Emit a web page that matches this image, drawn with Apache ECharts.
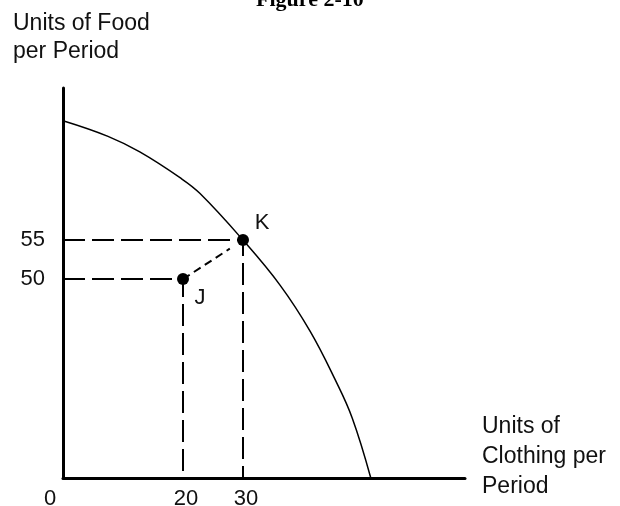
<!DOCTYPE html>
<html>
<head>
<meta charset="utf-8">
<script src="https://cdn.jsdelivr.net/npm/echarts@6/dist/echarts.min.js"></script>
<style>
html,body{margin:0;padding:0;background:#fff;}
#chart{width:620px;height:506px;}
</style>
</head>
<body>
<div id="chart"></div>
<script>
// ---- data ----
const titleText = 'Figure 2-10';
const yAxisTitle = 'Units of Food\nper Period';
const xAxisTitle = 'Units of\nClothing per\nPeriod';
// production possibilities frontier
const ppfClothing = [0, 7.5, 12.8, 19.5, 22.8, 30, 36.2, 41.2, 45.3, 48.2, 51.3];
const ppfFood     = [70.3, 68.3, 66.3, 63.0, 61.0, 55, 49.2, 43.3, 37.2, 32.2, 24.5];
// labelled points
const pointNames = ['J', 'K'];
const pointClothing = [20, 30];
const pointFood = [50, 55];
// short dashed move from J toward K
const moveClothing = [20, 27.8];
const moveFood = [50, 53.9];
// tick labels
const xTickValues = [0, 20, 30];
const yTickValues = [50, 55];

const Y_MIN = 24.5, Y_MAX = 74.5, X_MIN = 0, X_MAX = 67;

const chart = echarts.init(document.getElementById('chart'), null, {renderer: 'canvas'});
const font = "'Liberation Sans', Arial, sans-serif";
const txt = '#111';

const guideSeries = pointNames.map((n, i) => ({
  type: 'line',
  data: [[X_MIN, pointFood[i]], [pointClothing[i], pointFood[i]], [pointClothing[i], Y_MIN]],
  showSymbol: false,
  silent: true,
  lineStyle: {color: '#000', width: 2, type: [22, 7]},
  z: 2
}));

const option = {
  backgroundColor: '#fff',
  animation: false,
  grid: {left: 63, top: 88, width: 402, height: 390, containLabel: false, outerBoundsMode: 'none'},
  xAxis: {
    type: 'value', min: X_MIN, max: X_MAX,
    axisLine: {show: true, onZero: false, lineStyle: {color: '#000', width: 3}},
    axisTick: {show: false},
    splitLine: {show: false},
    axisLabel: {
      customValues: xTickValues,
      margin: 10,
      fontSize: 22, fontFamily: font, color: txt,
      formatter: v => v === 0 ? '{z|0}' : '{n|' + v + '}',
      rich: {
        z: {fontSize: 22, fontFamily: font, color: txt, padding: [0, 26, 0, 0]},
        n: {fontSize: 22, fontFamily: font, color: txt, padding: [0, 0, 0, 6]}
      }
    }
  },
  yAxis: {
    type: 'value', min: Y_MIN, max: Y_MAX,
    axisLine: {show: true, onZero: false, lineStyle: {color: '#000', width: 3}},
    axisTick: {show: false},
    splitLine: {show: false},
    axisLabel: {
      customValues: yTickValues,
      margin: 18,
      fontSize: 22, fontFamily: font, color: txt
    }
  },
  graphic: [
    {type: 'text', left: 310 - 54, top: -11, style: {text: titleText, font: "bold 22px 'Liberation Serif', 'Times New Roman', serif", fill: '#000', lineHeight: 22}},
    {type: 'text', x: 13, y: 10, style: {text: yAxisTitle, font: '23px ' + font, fill: txt, lineHeight: 28}},
    {type: 'text', x: 482, y: 412, style: {text: xAxisTitle, font: '23px ' + font, fill: txt, lineHeight: 30}}
  ],
  series: [
    {
      type: 'line',
      data: ppfClothing.map((c, i) => [c, ppfFood[i]]),
      smooth: 0.4,
      showSymbol: false,
      silent: true,
      lineStyle: {color: '#000', width: 1.5},
      z: 3
    },
    ...guideSeries,
    {
      type: 'line',
      data: moveClothing.map((c, i) => [c, moveFood[i]]),
      showSymbol: false,
      silent: true,
      lineStyle: {color: '#000', width: 2, type: [8, 5]},
      z: 2
    },
    {
      type: 'scatter',
      data: pointNames.map((n, i) => ({
        name: n,
        value: [pointClothing[i], pointFood[i]],
        label: {offset: i === 0 ? [17, 19] : [19, -17]}
      })),
      symbol: 'circle',
      symbolSize: 12,
      itemStyle: {color: '#000', opacity: 1},
      label: {show: true, position: 'inside', formatter: '{b}', fontSize: 22, fontFamily: font, color: txt},
      z: 5
    }
  ]
};
chart.setOption(option);
</script>
</body>
</html>
